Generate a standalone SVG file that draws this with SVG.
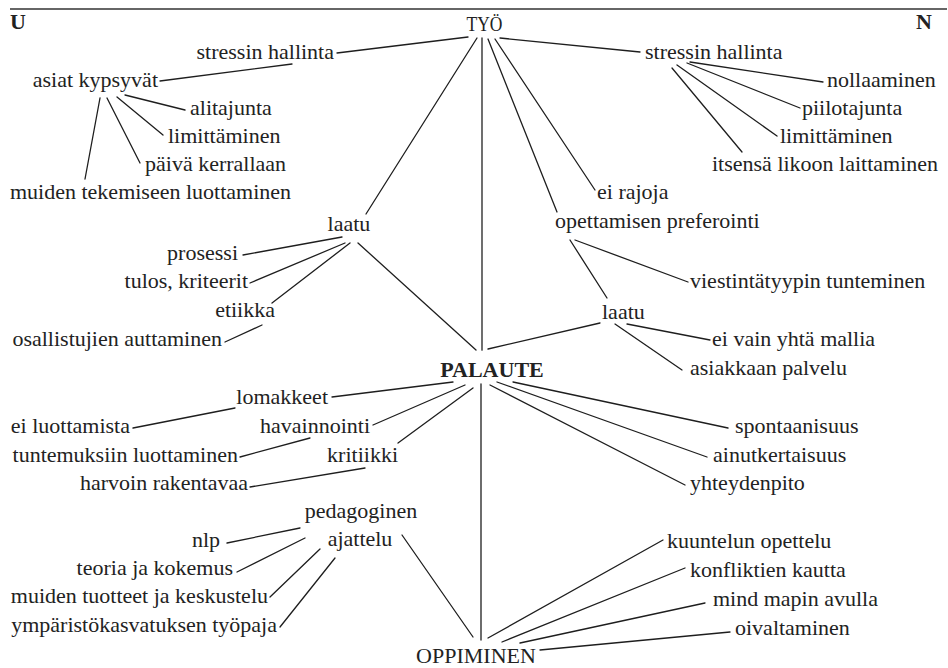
<svg xmlns="http://www.w3.org/2000/svg" width="948" height="668" viewBox="0 0 948 668">
  <style>
    text { font-family: "Liberation Serif", "Times New Roman", serif; font-size: 22px; fill: #222; }
    .b { font-weight: bold; }
    .e { text-anchor: end; }
    .m { text-anchor: middle; }
    #connectors line { stroke: #1e1e1e; stroke-width: 1.3; stroke-linecap: round; }
    #connectors line.axis { stroke: #555; stroke-width: 1.7; }
  </style>
  <rect width="948" height="668" fill="#fff"/>
  <line x1="10" y1="9" x2="947" y2="9" stroke="#333" stroke-width="1.4"/>

  <g id="connectors">
    <!-- TYÖ -->
    <line x1="468" y1="37" x2="337" y2="53"/>
    <line x1="477" y1="38" x2="366" y2="214"/>
    <line class="axis" x1="482" y1="38" x2="482" y2="350"/>
    <line x1="488" y1="39" x2="557" y2="212"/>
    <line x1="495" y1="39" x2="595" y2="190"/>
    <line x1="500" y1="38" x2="640" y2="52"/>
    <!-- left stressin hallinta / asiat kypsyvät -->
    <line x1="160" y1="81" x2="292" y2="64"/>
    <line x1="125" y1="95" x2="185" y2="110"/>
    <line x1="117" y1="97" x2="163" y2="135"/>
    <line x1="107" y1="98" x2="140" y2="163"/>
    <line x1="100" y1="98" x2="85" y2="179"/>
    <!-- right stressin hallinta -->
    <line x1="690" y1="62" x2="823" y2="82"/>
    <line x1="687" y1="63" x2="800" y2="108"/>
    <line x1="677" y1="65" x2="777" y2="136"/>
    <line x1="672" y1="68" x2="742" y2="152"/>
    <!-- left laatu -->
    <line x1="342" y1="237" x2="243" y2="255"/>
    <line x1="345" y1="243" x2="250" y2="283"/>
    <line x1="350" y1="243" x2="272" y2="303"/>
    <line x1="262" y1="325" x2="225" y2="342"/>
    <line x1="358" y1="243" x2="476" y2="350"/>
    <!-- opettamisen preferointi / right laatu -->
    <line x1="570" y1="240" x2="607" y2="298"/>
    <line x1="575" y1="240" x2="688" y2="282"/>
    <line x1="600" y1="323" x2="488" y2="349"/>
    <line x1="627" y1="324" x2="710" y2="340"/>
    <line x1="615" y1="324" x2="682" y2="370"/>
    <!-- PALAUTE -->
    <line x1="453" y1="382" x2="332" y2="397"/>
    <line x1="465" y1="385" x2="373" y2="425"/>
    <line x1="473" y1="388" x2="398" y2="443"/>
    <line x1="481" y1="384" x2="481" y2="640"/>
    <line x1="513" y1="382" x2="728" y2="428"/>
    <line x1="497" y1="382" x2="707" y2="457"/>
    <line x1="490" y1="385" x2="685" y2="485"/>
    <line x1="133" y1="428" x2="235" y2="408"/>
    <line x1="240" y1="457" x2="310" y2="438"/>
    <line x1="250" y1="487" x2="365" y2="468"/>
    <!-- pedagoginen ajattelu -->
    <line x1="227" y1="543" x2="300" y2="528"/>
    <line x1="237" y1="572" x2="305" y2="538"/>
    <line x1="270" y1="597" x2="320" y2="549"/>
    <line x1="280" y1="627" x2="335" y2="558"/>
    <line x1="402" y1="535" x2="473" y2="637"/>
    <!-- OPPIMINEN -->
    <line x1="488" y1="638" x2="663" y2="540"/>
    <line x1="502" y1="642" x2="685" y2="568"/>
    <line x1="520" y1="643" x2="705" y2="603"/>
    <line x1="540" y1="650" x2="730" y2="632"/>
  </g>

  <g id="corner-u"><text class="b" x="10" y="29">U</text></g>
  <g id="corner-n"><text class="b e" x="932" y="29">N</text></g>

  <g id="tyo"><text class="m" x="484.5" y="31" textLength="36" lengthAdjust="spacingAndGlyphs">TYÖ</text></g>
  <g id="stressin-hallinta-u"><text class="e" x="334" y="59">stressin hallinta</text></g>
  <g id="asiat-kypsyvat"><text class="e" x="158" y="87">asiat kypsyvät</text></g>
  <g id="alitajunta"><text x="190" y="115">alitajunta</text></g>
  <g id="limittaminen-u"><text x="168" y="143">limittäminen</text></g>
  <g id="paiva-kerrallaan"><text x="145" y="171">päivä kerrallaan</text></g>
  <g id="muiden-tekemiseen"><text x="10" y="199">muiden tekemiseen luottaminen</text></g>

  <g id="stressin-hallinta-n"><text x="645" y="59">stressin hallinta</text></g>
  <g id="nollaaminen"><text x="827" y="87">nollaaminen</text></g>
  <g id="piilotajunta"><text x="802" y="115">piilotajunta</text></g>
  <g id="limittaminen-n"><text x="780" y="143">limittäminen</text></g>
  <g id="itsensa-likoon"><text x="712" y="171">itsensä likoon laittaminen</text></g>
  <g id="ei-rajoja"><text x="597" y="199">ei rajoja</text></g>

  <g id="laatu-u"><text class="m" x="349" y="231">laatu</text></g>
  <g id="prosessi"><text class="e" x="238" y="260">prosessi</text></g>
  <g id="tulos-kriteerit"><text class="e" x="248" y="288">tulos, kriteerit</text></g>
  <g id="etiikka"><text class="e" x="275" y="317">etiikka</text></g>
  <g id="osallistujien"><text class="e" x="222" y="346">osallistujien auttaminen</text></g>

  <g id="opettamisen-preferointi"><text x="555" y="228">opettamisen preferointi</text></g>
  <g id="viestintatyypin"><text x="690" y="288">viestintätyypin tunteminen</text></g>
  <g id="laatu-n"><text x="602" y="319">laatu</text></g>
  <g id="ei-vain-yhta"><text x="712" y="346">ei vain yhtä mallia</text></g>
  <g id="asiakkaan-palvelu"><text x="690" y="375">asiakkaan palvelu</text></g>

  <g id="palaute"><text class="b m" x="492" y="377">PALAUTE</text></g>
  <g id="lomakkeet"><text class="e" x="328" y="404">lomakkeet</text></g>
  <g id="ei-luottamista"><text class="e" x="130" y="433">ei luottamista</text></g>
  <g id="havainnointi"><text class="e" x="370" y="433">havainnointi</text></g>
  <g id="tuntemuksiin"><text class="e" x="238" y="462">tuntemuksiin luottaminen</text></g>
  <g id="kritiikki"><text class="e" x="398" y="462">kritiikki</text></g>
  <g id="harvoin-rakentavaa"><text class="e" x="248" y="490">harvoin rakentavaa</text></g>
  <g id="spontaanisuus"><text x="735" y="433">spontaanisuus</text></g>
  <g id="ainutkertaisuus"><text x="713" y="462">ainutkertaisuus</text></g>
  <g id="yhteydenpito"><text x="690" y="490">yhteydenpito</text></g>

  <g id="pedagoginen-ajattelu">
    <text class="m" x="361" y="518">pedagoginen</text>
    <text class="m" x="360" y="546">ajattelu</text>
  </g>
  <g id="nlp"><text class="e" x="220" y="547">nlp</text></g>
  <g id="teoria-ja-kokemus"><text class="e" x="233" y="575">teoria ja kokemus</text></g>
  <g id="muiden-tuotteet"><text class="e" x="268" y="603">muiden tuotteet ja keskustelu</text></g>
  <g id="ymparistokasvatuksen"><text class="e" x="277" y="632">ympäristökasvatuksen työpaja</text></g>

  <g id="oppiminen"><text class="m" x="476" y="663">OPPIMINEN</text></g>
  <g id="kuuntelun-opettelu"><text x="667" y="548">kuuntelun opettelu</text></g>
  <g id="konfliktien-kautta"><text x="690" y="577">konfliktien kautta</text></g>
  <g id="mind-mapin-avulla"><text x="713" y="606">mind mapin avulla</text></g>
  <g id="oivaltaminen"><text x="735" y="635">oivaltaminen</text></g>
</svg>
